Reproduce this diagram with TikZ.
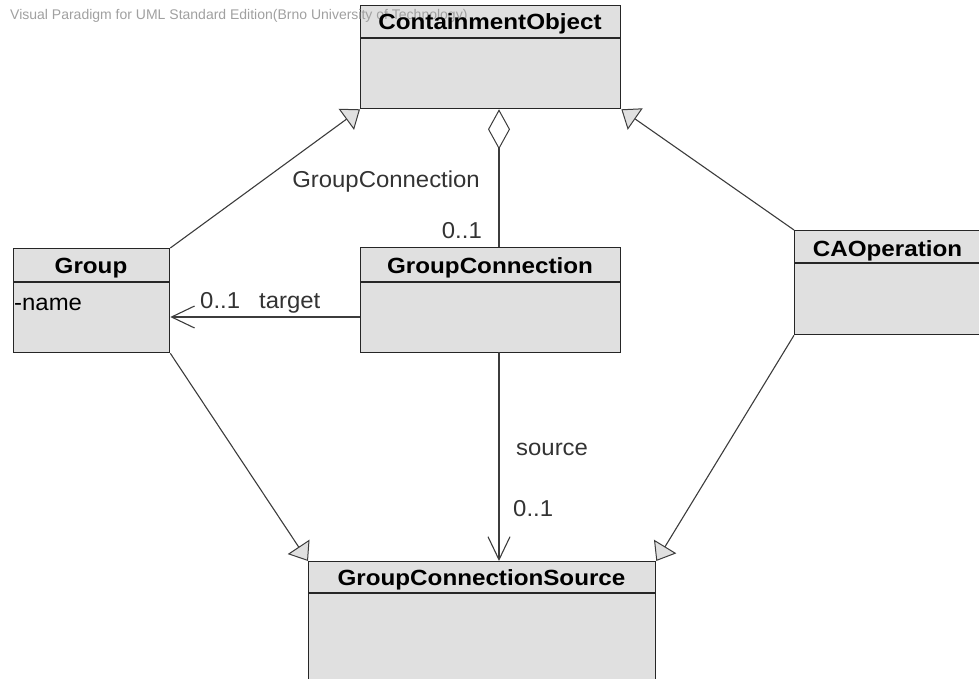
\documentclass[tikz,border=0pt]{standalone}
\usepackage{fontspec}
\setmainfont{Liberation Sans}
\newfontfamily\titlefont[FakeStretch=1.1]{Liberation Sans Bold}
\newfontfamily\lblfont[FakeStretch=1.04]{Liberation Sans}
\usetikzlibrary{arrows.meta,calc}
\definecolor{boxfill}{RGB}{224,224,224}
\definecolor{linecol}{RGB}{60,60,60}
\definecolor{wmark}{RGB}{160,160,160}
\tikzset{
  umlbox/.style={draw=black!85, fill=boxfill, line width=1.3pt, anchor=north west, inner sep=0pt},
  divider/.style={line width=1.3pt, draw=black!85},
  boxtitle/.style={anchor=base, inner sep=0pt, font=\fontsize{22}{24}\selectfont\titlefont},
  attr/.style={anchor=base west, inner sep=0pt, font=\fontsize{23}{25}\selectfont\lblfont},
  lbl/.style={inner sep=0pt, font=\fontsize{23}{25}\selectfont\lblfont, text=black!80},
  conn/.style={draw=linecol, line width=1.1pt},
  gen/.style={conn, -{Triangle[length=17pt,width=26pt,fill=boxfill,line width=1pt]}},
  aggr/.style={conn, {Diamond[length=40pt,width=22pt,fill=white,line width=1pt]}-},
  navarr/.style={conn, -{Straight Barb[length=23pt,width=22pt,line width=1.1pt]}},
}
\begin{document}
\begin{tikzpicture}[x=1pt,y=-1pt]
\useasboundingbox (0,0) rectangle (979,679);
\begin{scope}
\clip (0,0) rectangle (979,679);
% boxes
\node[umlbox, minimum width=260pt, minimum height=103pt] (co) at (360,5) {};
\draw[divider] ([yshift=-33pt]co.north west) -- ([yshift=-33pt]co.north east);
% watermark
\node[anchor=base west, inner sep=0pt, text=wmark, font=\fontsize{14}{15}\selectfont] (wm) at (10,19.5) {Visual Paradigm for UML Standard Edition(Brno University of Technology)};
\node[boxtitle] (cot) at (490,30) {ContainmentObject};

\node[umlbox, minimum width=156pt, minimum height=104pt] (grp) at (13,248) {};
\draw[divider] ([yshift=-34pt]grp.north west) -- ([yshift=-34pt]grp.north east);
\node[boxtitle] (grpt) at (91,273) {Group};
\node[attr] (grpa) at (14,310) {-name};

\node[umlbox, minimum width=260pt, minimum height=105pt] (gc) at (360,247) {};
\draw[divider] ([yshift=-35pt]gc.north west) -- ([yshift=-35pt]gc.north east);
\node[boxtitle] (gct) at (490,273) {GroupConnection};

\node[umlbox, minimum width=187pt, minimum height=104pt] (cao) at (794,230) {};
\draw[divider] ([yshift=-33pt]cao.north west) -- ([yshift=-33pt]cao.north east);
\node[boxtitle] (caot) at (887.5,256) {CAOperation};

\node[umlbox, minimum width=347pt, minimum height=140pt] (gcs) at (308,561) {};
\draw[divider] ([yshift=-32pt]gcs.north west) -- ([yshift=-32pt]gcs.north east);
\node[boxtitle] (gcst) at (481.5,585) {GroupConnectionSource};

% connectors
\coordinate (gcTop) at (499,247);
\coordinate (gcBot) at (499,352);
\draw[gen] (grp.north east) -- (co.south west);
\draw[gen] (cao.north west) -- (co.south east);
\draw[gen] (grp.south east) -- (gcs.north west);
\draw[gen] (cao.south west) -- (gcs.north east);
\draw[aggr] (gcTop |- co.south) -- (gcTop);
\draw[navarr] (gc.west |- 0,317) -- (grp.east |- 0,317);
\draw[navarr] (gcBot) -- (gcBot |- gcs.north);

% labels
\node[lbl, anchor=base east] (l1) at (480,187) {GroupConnection};
\node[lbl, anchor=base east] (l2) at (482,238) {0..1};
\node[lbl, anchor=base west] (l3) at (200,308) {0..1};
\node[lbl, anchor=base west] (l4) at (259,308) {target};
\node[lbl, anchor=base west] (l5) at (516,455) {source};
\node[lbl, anchor=base west] (l6) at (513,516) {0..1};
\end{scope}
\end{tikzpicture}
\end{document}
